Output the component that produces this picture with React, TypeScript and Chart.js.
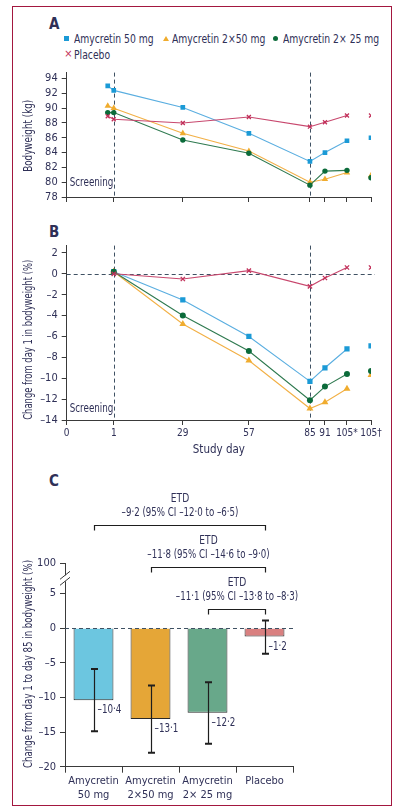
import React, { useEffect, useRef } from 'react';
import { Chart, registerables } from 'chart.js';

Chart.register(...registerables);

const FONT = "'Liberation Sans Narrow', 'DejaVu Sans Condensed', 'Liberation Sans', sans-serif";
const TEXT = '#2f3057';
const AXIS = '#3a3a3a';
const DASH = '#3f5163';
const FRAME = '#a3173f';

// ---- shared study-day axis (proportional positions as drawn in the figure) ----
const dayTickPositions = [0, 47, 116, 182, 243, 258, 280, 304];
const dayTickLabels = ['0', '1', '29', '57', '85', '91', '105*', '105†'];
const screeningPosition = 41;
const day1Position = 47;
const day85Position = 243;

// ---- series ----
const seriesNames = ['Amycretin 50 mg', 'Amycretin 2×50 mg', 'Amycretin 2× 25 mg', 'Placebo'];
const markerColors = ['#1b9ad6', '#f0ac2e', '#0b6b3a', '#c2305a'];
const lineColors = ['#5aaee0', '#f2b046', '#2f7a50', '#c8486e'];
const pointStyles = ['rect', 'triangle', 'circle', 'crossRot'];

// ---- panel A: bodyweight (kg) at screening, day 1, 29, 57, 85, 91, 105*, 105† ----
const panelAPositions = [screeningPosition, 47, 116, 182, 243, 258, 280, 304];
const amy50Kg = [93.0, 92.4, 90.1, 86.6, 82.8, 84.0, 85.6, 86.0];
const amy2x50Kg = [90.3, 90.0, 86.6, 84.2, 80.0, 80.4, 81.3, 80.9];
const amy2x25Kg = [89.4, 89.4, 85.7, 83.9, 79.6, 81.5, 81.6, 80.6];
const placeboKg = [88.9, 88.5, 88.0, 88.8, 87.5, 88.1, 89.0, 89.0];
const panelATicks = [78, 80, 82, 84, 86, 88, 90, 92, 94];

// ---- panel B: % change from day 1 at day 1, 29, 57, 85, 91, 105*, 105† ----
const panelBPositions = [47, 116, 182, 243, 258, 280, 304];
const amy50Pct = [0.2, -2.5, -6.0, -10.3, -9.0, -7.2, -6.9];
const amy2x50Pct = [0.2, -4.8, -8.3, -12.9, -12.3, -11.0, -9.7];
const amy2x25Pct = [0.2, -4.0, -7.4, -12.1, -10.8, -9.6, -9.3];
const placeboPct = [0.0, -0.5, 0.3, -1.2, -0.4, 0.6, 0.6];
const panelBTicks = [-14, -12, -10, -8, -6, -4, -2, 0, 2];

// ---- panel C: change day 1 to day 85 ----
const groupLabels = [['Amycretin', '50 mg'], ['Amycretin', '2×50 mg'], ['Amycretin', '2× 25 mg'], ['Placebo']];
const changeDay85 = [-10.4, -13.1, -12.2, -1.2];
const ciUpper = [-5.9, -8.3, -7.8, 1.1];
const ciLower = [-14.9, -18.0, -16.7, -3.7];
const barColors = ['#6cc6e0', '#e5a637', '#68a88a', '#d98080'];
const panelCTickValues = [-20, -15, -10, -5, 0, 5, 9.35];
const panelCTickLabels = ['–20', '–15', '–10', '–5', '0', '5', '100'];
const etdGroups = [0, 1, 2];
const etdReference = 3;
const etdTexts = [
  '–9·2 (95% CI –12·0 to –6·5)',
  '–11·8 (95% CI –14·6 to –9·0)',
  '–11·1 (95% CI –13·8 to –8·3)',
];

const fmt = (v: number) => (v < 0 ? '–' : '') + Math.abs(v).toFixed(1).replace('.', '·');
const negLabel = (v: number) => (v < 0 ? '–' + Math.abs(v) : String(v));

const tickFont = { family: FONT, size: 11 };
const SQUEEZE = 0.78;

function squeezedText(ctx: CanvasRenderingContext2D, text: string, x: number, y: number, align: CanvasTextAlign, size: number, sx = SQUEEZE) {
  ctx.save();
  ctx.translate(x, y);
  ctx.scale(sx, 1);
  ctx.font = `${size}px ${FONT}`;
  ctx.fillStyle = TEXT;
  ctx.textAlign = align;
  ctx.textBaseline = 'middle';
  ctx.fillText(text, 0, 0);
  ctx.restore();
}

function axisTitlePlugin(text: string, targetLength: number, centerShift: number) {
  return {
    id: 'axisTitle',
    afterDraw(chart: any) {
      const { ctx, chartArea: a } = chart;
      ctx.save();
      ctx.font = `12.5px ${FONT}`;
      const w = ctx.measureText(text).width;
      ctx.translate(29, (a.top + a.bottom) / 2 + centerShift);
      ctx.rotate(-Math.PI / 2);
      ctx.scale(targetLength / w, 1);
      ctx.fillStyle = TEXT;
      ctx.textAlign = 'center';
      ctx.textBaseline = 'middle';
      ctx.fillText(text, 0, 0);
      ctx.restore();
    },
  };
}

function refLinesPlugin(zeroLine: boolean, screeningDy: number) {
  return {
    id: 'refLines',
    beforeDatasetsDraw(chart: any) {
      const { ctx, chartArea: a, scales } = chart;
      ctx.save();
      ctx.strokeStyle = DASH;
      ctx.lineWidth = 1;
      ctx.setLineDash([4, 3]);
      for (const v of [day1Position, day85Position]) {
        const x = Math.round(scales.x.getPixelForValue(v)) + 0.5;
        ctx.beginPath();
        ctx.moveTo(x, a.top);
        ctx.lineTo(x, a.bottom);
        ctx.stroke();
      }
      if (zeroLine) {
        const y = Math.round(scales.y.getPixelForValue(0)) + 0.5;
        ctx.beginPath();
        ctx.moveTo(a.left, y);
        ctx.lineTo(a.right + 4, y);
        ctx.stroke();
      }
      ctx.setLineDash([]);
      ctx.restore();
      squeezedText(ctx, 'Screening', a.left + 3, a.bottom + screeningDy, 'left', 12.5);
    },
  };
}

function lineDatasets(positions: number[], values: number[][], radii: number[]) {
  return seriesNames.map((name, i) => ({
    label: name,
    data: positions.map((x, j) => ({ x, y: values[i][j] })),
    borderColor: lineColors[i],
    backgroundColor: markerColors[i],
    pointBackgroundColor: markerColors[i],
    pointBorderColor: markerColors[i],
    pointBorderWidth: i === 3 ? 1.3 : 0,
    pointStyle: pointStyles[i],
    pointRadius: radii[i],
    borderWidth: 1.1,
    order: 3 - i,
    segment: {
      borderColor: (c: any) => (c.p1DataIndex === positions.length - 1 ? 'rgba(0,0,0,0)' : lineColors[i]),
    },
  }));
}

function xDayScale(showLabels: boolean, height: number) {
  return {
    type: 'linear',
    min: 0,
    max: 304,
    afterBuildTicks: (s: any) => {
      s.ticks = dayTickPositions.map((v) => ({ value: v }));
    },
    afterFit: (s: any) => {
      s.height = height;
    },
    ticks: {
      display: showLabels,
      autoSkip: false,
      maxRotation: 0,
      padding: 2,
      color: TEXT,
      font: { family: FONT, size: 10 },
      callback: (_v: any, i: number) => dayTickLabels[i],
    },
    grid: { drawOnChartArea: false, drawTicks: true, tickLength: 5, color: AXIS },
    border: { color: AXIS, width: 1 },
    title: {
      display: showLabels,
      text: 'Study day',
      color: TEXT,
      font: { family: FONT, size: 11.5 },
      padding: { top: 0, bottom: 3 },
    },
  };
}

function yScale(min: number, max: number, ticks: number[], labels: string[] | null, width: number) {
  return {
    min,
    max,
    afterBuildTicks: (s: any) => {
      s.ticks = ticks.map((v) => ({ value: v }));
    },
    afterFit: (s: any) => {
      s.width = width;
    },
    ticks: {
      color: TEXT,
      font: tickFont,
      padding: 4,
      autoSkip: false,
      callback: (v: any, i: number) => (labels ? labels[i] : negLabel(Number(v))),
    },
    grid: { drawOnChartArea: false, drawTicks: true, tickLength: 5, color: AXIS },
    border: { color: AXIS, width: 1 },
  };
}

const panelCPlugin = {
  id: 'panelCExtras',
  afterDatasetsDraw(chart: any) {
    const { ctx, chartArea: a, scales } = chart;
    const meta = chart.getDatasetMeta(0);
    const y = scales.y;
    ctx.save();
    // zero line
    ctx.strokeStyle = DASH;
    ctx.lineWidth = 1;
    ctx.setLineDash([4, 3]);
    const y0 = Math.round(y.getPixelForValue(0)) + 0.5;
    ctx.beginPath();
    ctx.moveTo(a.left, y0);
    ctx.lineTo(a.right, y0);
    ctx.stroke();
    ctx.setLineDash([]);
    // error bars + value labels
    ctx.strokeStyle = '#1e1e1e';
    meta.data.forEach((bar: any, i: number) => {
      const x = Math.round(bar.x) + 0.5;
      const yt = y.getPixelForValue(ciUpper[i]);
      const yb = y.getPixelForValue(ciLower[i]);
      ctx.lineWidth = 1.2;
      ctx.beginPath();
      ctx.moveTo(x, yt);
      ctx.lineTo(x, yb);
      ctx.stroke();
      ctx.lineWidth = 2;
      ctx.beginPath();
      ctx.moveTo(x - 3.5, yt);
      ctx.lineTo(x + 3.5, yt);
      ctx.moveTo(x - 3.5, yb);
      ctx.lineTo(x + 3.5, yb);
      ctx.stroke();
      squeezedText(ctx, fmt(changeDay85[i]), x + 3, y.getPixelForValue(changeDay85[i]) + 10, 'left', 12.5);
    });
    // axis break mark
    const bx = a.left;
    const by = a.top + 15;
    ctx.fillStyle = '#fff';
    ctx.fillRect(bx - 2, by - 3, 4, 6);
    ctx.strokeStyle = AXIS;
    ctx.lineWidth = 1;
    ctx.beginPath();
    ctx.moveTo(bx - 5, by + 1);
    ctx.lineTo(bx + 5, by - 7);
    ctx.moveTo(bx - 5, by + 7);
    ctx.lineTo(bx + 5, by - 1);
    ctx.stroke();
    // ETD brackets
    const bracketOffsets = [-38.3, 3.4, 45.7];
    etdGroups.forEach((g, k) => {
      const x1 = Math.round(meta.data[g].x) + 0.5;
      const x2 = Math.round(meta.data[etdReference].x) + 0.5;
      const yb2 = Math.round(a.top + bracketOffsets[k]) + 0.5;
      ctx.strokeStyle = '#1e1e1e';
      ctx.lineWidth = 1.2;
      ctx.beginPath();
      ctx.moveTo(x1, yb2 + 5);
      ctx.lineTo(x1, yb2);
      ctx.lineTo(x2, yb2);
      ctx.lineTo(x2, yb2 + 5);
      ctx.stroke();
      const cx = (x1 + x2) / 2;
      squeezedText(ctx, 'ETD', cx, yb2 - 27, 'center', 13);
      squeezedText(ctx, etdTexts[k], cx, yb2 - 13, 'center', 13, 0.74);
    });
    ctx.restore();
  },
};

const legendMarker = (i: number): React.CSSProperties => {
  if (i === 0) return { width: 5, height: 5, background: markerColors[0] };
  if (i === 1)
    return {
      width: 0,
      height: 0,
      borderLeft: '3px solid transparent',
      borderRight: '3px solid transparent',
      borderBottom: `5px solid ${markerColors[1]}`,
    };
  if (i === 2) return { width: 5, height: 5, borderRadius: '50%', background: markerColors[2] };
  return {};
};

const legendPos = [
  { mx: 66.7, tx: 74, y: 39.3 },
  { mx: 165.7, tx: 172.3, y: 39.3 },
  { mx: 276, tx: 282.7, y: 39.3 },
  { mx: 68.3, tx: 74, y: 55 },
];

export default function App() {
  const refA = useRef<HTMLCanvasElement>(null);
  const refB = useRef<HTMLCanvasElement>(null);
  const refC = useRef<HTMLCanvasElement>(null);

  useEffect(() => {
    Chart.defaults.font.family = FONT;
    Chart.defaults.color = TEXT;

    const chartA = new Chart(refA.current as HTMLCanvasElement, {
      type: 'line',
      data: {
        datasets: lineDatasets(panelAPositions, [amy50Kg, amy2x50Kg, amy2x25Kg, placeboKg], [3.3, 3.7, 2.7, 2.8]) as any,
      },
      options: {
        animation: false,
        responsive: false,
        maintainAspectRatio: false,
        layout: { padding: { left: 0, right: 28, top: 7, bottom: 0 } },
        plugins: { legend: { display: false }, tooltip: { enabled: false } },
        scales: {
          x: xDayScale(false, 15) as any,
          y: yScale(78, 94.8, panelATicks, null, 66.7) as any,
        },
      },
      plugins: [refLinesPlugin(false, -14), axisTitlePlugin('Bodyweight (kg)', 72, 1)],
    });

    const chartB = new Chart(refB.current as HTMLCanvasElement, {
      type: 'line',
      data: {
        datasets: lineDatasets(panelBPositions, [amy50Pct, amy2x50Pct, amy2x25Pct, placeboPct], [3.7, 4.0, 3.0, 3.0]) as any,
      },
      options: {
        animation: false,
        responsive: false,
        maintainAspectRatio: false,
        layout: { padding: { left: 0, right: 28, top: 10, bottom: 0 } },
        plugins: { legend: { display: false }, tooltip: { enabled: false } },
        scales: {
          x: xDayScale(true, 40) as any,
          y: yScale(-14, 2.7, panelBTicks, null, 66.7) as any,
        },
      },
      plugins: [refLinesPlugin(true, -11), axisTitlePlugin('Change from day 1 in bodyweight (%)', 160, 7)],
    });

    const chartC = new Chart(refC.current as HTMLCanvasElement, {
      type: 'bar',
      data: {
        labels: groupLabels as any,
        datasets: [
          {
            label: 'Change from day 1 to day 85',
            data: changeDay85,
            backgroundColor: barColors,
            borderColor: '#2a2a2a',
            borderWidth: 1,
            barPercentage: 0.7,
            categoryPercentage: 1,
          },
        ],
      },
      options: {
        animation: false,
        responsive: false,
        maintainAspectRatio: false,
        layout: { padding: { left: 0, right: 106, top: 93.3, bottom: 0 } },
        plugins: { legend: { display: false }, tooltip: { enabled: false } },
        scales: {
          x: {
            type: 'category',
            offset: true,
            afterFit: (s: any) => {
              s.height = 38.3;
            },
            ticks: { color: TEXT, font: { family: FONT, size: 11, lineHeight: 1.3 }, padding: 1, maxRotation: 0, autoSkip: false },
            grid: { offset: true, drawOnChartArea: false, drawTicks: true, tickLength: 6, color: AXIS },
            border: { color: AXIS, width: 1 },
          } as any,
          y: yScale(-20, 9.35, panelCTickValues, panelCTickLabels, 65) as any,
        },
      },
      plugins: [panelCPlugin, axisTitlePlugin('Change from day 1 to day 85 in bodyweight (%)', 208, -1)],
    });

    return () => {
      chartA.destroy();
      chartB.destroy();
      chartC.destroy();
    };
  }, []);

  const abs = (l: number, t: number): React.CSSProperties => ({ position: 'absolute', left: l, top: t });
  const letter = (t: string, top: number) => (
    <div style={{ ...abs(49, top), fontFamily: FONT, fontWeight: 'bold', fontSize: 15, color: TEXT, lineHeight: '16px' }}>{t}</div>
  );

  return (
    <div style={{ position: 'absolute', left: 0, top: 0, width: 399, height: 812, background: '#fff', overflow: 'hidden' }}>
      <div
        style={{
          ...abs(12, 6),
          width: 380,
          height: 800,
          border: `1.5px solid ${FRAME}`,
          boxSizing: 'border-box',
        }}
      />
      {letter('A', 16)}
      {letter('B', 224)}
      {letter('C', 473)}
      {seriesNames.map((name, i) => (
        <React.Fragment key={name}>
          {i < 3 ? (
            <div style={{ ...abs(legendPos[i].mx - 3, legendPos[i].y - 3), ...legendMarker(i) }} />
          ) : (
            <div
              style={{
                ...abs(legendPos[i].mx - 4, legendPos[i].y - 7),
                fontFamily: FONT,
                fontSize: 11,
                lineHeight: '12px',
                color: markerColors[3],
              }}
            >
              ×
            </div>
          )}
          <div
            style={{
              ...abs(legendPos[i].tx, legendPos[i].y - 8),
              fontFamily: FONT,
              fontSize: 13,
              lineHeight: '16px',
              color: TEXT,
              whiteSpace: 'nowrap',
              transform: 'scaleX(0.79)',
              transformOrigin: 'left center',
            }}
          >
            {name}
          </div>
        </React.Fragment>
      ))}
      <canvas ref={refA} width={399} height={150} style={{ ...abs(0, 62), width: 399, height: 150 }} />
      <canvas ref={refB} width={399} height={225} style={{ ...abs(0, 235), width: 399, height: 225 }} />
      <canvas ref={refC} width={399} height={335} style={{ ...abs(0, 470), width: 399, height: 335 }} />
    </div>
  );
}
